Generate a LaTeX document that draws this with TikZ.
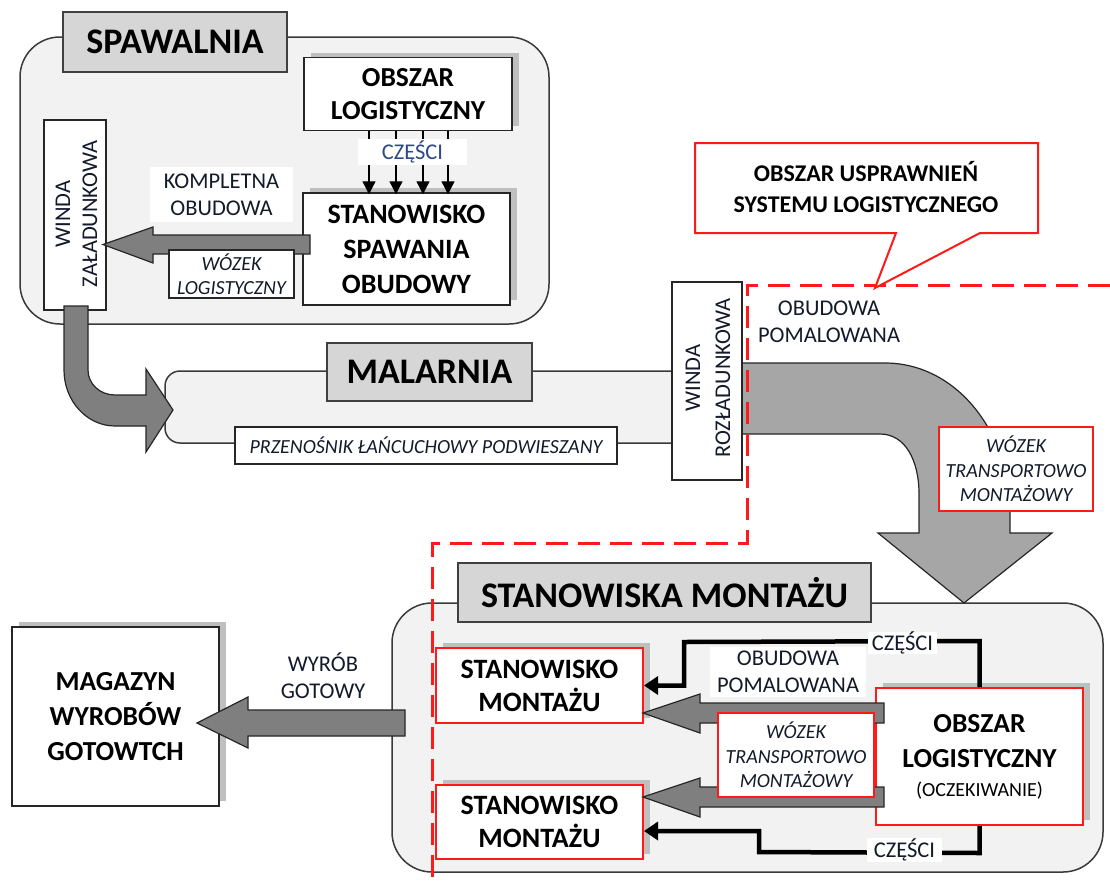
\documentclass[tikz,border=0pt]{standalone}
\usepackage{fontspec}
\setmainfont{Carlito}
\usetikzlibrary{arrows.meta,shadows}
\definecolor{areafill}{HTML}{F2F2F2}
\definecolor{areaborder}{HTML}{3A3A3A}
\definecolor{titlefill}{HTML}{D6D6D6}
\definecolor{titleborder}{HTML}{404040}
\definecolor{boxborder}{HTML}{262626}
\definecolor{shadowgray}{HTML}{BFBFBF}
\definecolor{darkarrow}{HTML}{7F7F7F}
\definecolor{lightarrow}{HTML}{A6A6A6}
\definecolor{arrowborder}{HTML}{262626}
\definecolor{myred}{HTML}{FF1A1A}
\definecolor{navy}{HTML}{141A2A}
\definecolor{bluetxt}{HTML}{2C4A85}
\tikzset{
  area/.style={draw=areaborder, line width=1.5pt, fill=areafill, rounded corners=40pt, inner sep=0pt},
  ttl/.style={draw=titleborder, line width=1.5pt, fill=titlefill, inner sep=0pt,
     font=\fontsize{36}{42}\selectfont\bfseries},
  pbox/.style={draw=boxborder, line width=1.5pt, fill=white, align=center, inner sep=0pt},
  sbox/.style={pbox, drop shadow={shadow xshift=7pt, shadow yshift=5pt, fill=shadowgray, opacity=1}},
  rbox/.style={sbox, draw=myred, line width=2pt},
  bigtxt/.style={font=\fontsize{27.5}{33}\selectfont\bfseries},
  lbl/.style={fill=white, align=center, inner sep=0pt, text=navy, font=\fontsize{22.5}{27}\selectfont},
  ntxt/.style={align=center, inner sep=0pt, text=navy, font=\fontsize{22.5}{27}\selectfont},
  itl/.style={draw=boxborder, line width=1.2pt, fill=white, align=center, inner sep=0pt, text=navy,
     font=\fontsize{20}{24.5}\selectfont\itshape},
  ritl/.style={itl, draw=myred, line width=2pt},
  fatarrow/.style={fill=darkarrow, draw=arrowborder, line width=1.2pt, line join=miter},
  thinarr/.style={line width=1.3pt, -{Triangle[length=13pt,width=13pt]}},
  conn/.style={line width=4.5pt, line join=miter, -{Triangle[length=14pt,width=18pt]}},
  reddash/.style={draw=myred, line width=3pt, dash pattern=on 22pt off 10pt},
}
\begin{document}
\begin{tikzpicture}[x=1pt,y=-1pt]
\fill[white] (0,0) rectangle (1110,881);
\useasboundingbox (0,0) rectangle (1110,881);

% ---------------- SPAWALNIA ----------------
\node[area, minimum width=529pt, minimum height=287pt] (spawalnia) at (284.5,180.5) {};
\node[ttl, minimum width=224pt, minimum height=60pt] (spawTitle) at (175,42) {SPAWALNIA};
\node[sbox, bigtxt, minimum width=208pt, minimum height=73pt] (obszar1) at (408,94) {OBSZAR\\LOGISTYCZNY};
\node[sbox, font=\fontsize{28}{35}\selectfont\bfseries, minimum width=207pt, minimum height=112pt] (stan) at (406.5,249) {STANOWISKO\\SPAWANIA\\OBUDOWY};
\foreach \dx in {-39,-12,15,40}
  \draw[thinarr] ([xshift=\dx pt]obszar1.south) -- ++(0,63);
\node[lbl, text=bluetxt, minimum width=109pt, minimum height=26pt] (czesci1) at (412.5,152) {CZĘŚCI};

\node[pbox, minimum width=62pt, minimum height=190pt] (windaZ) at (75,215) {};
\node[ntxt, rotate=90] (windaZtxt) at (76.5,214) {WINDA\\ZAŁADUNKOWA};
\node[lbl, minimum width=143pt, minimum height=55pt] (kompl) at (221.5,194.5) {KOMPLETNA\\OBUDOWA};
\draw[fatarrow] (310,235) -- (153,235) -- (153,227) -- (103,244.5) -- (153,263) -- (153,254) -- (310,254) -- cycle;
\node[itl, minimum width=125pt, minimum height=48pt] (wozekL) at (231.5,274) {WÓZEK\\LOGISTYCZNY};

% ---------------- MALARNIA ----------------
\node[area, rounded corners=15pt, minimum width=525pt, minimum height=72pt] (conveyor) at (427.5,407) {};
\node[ttl, minimum width=205pt, minimum height=58pt] (malTitle) at (429.5,372) {MALARNIA};
\node[itl, minimum width=382pt, minimum height=37pt] (przen) at (426,445.5) {PRZENOŚNIK ŁAŃCUCHOWY PODWIESZANY};
\draw[fatarrow] (64,306) -- (64,370) .. controls (64,401) and (87,426) .. (115,426)
  -- (146,426) -- (146,452) -- (173,410) -- (146,369) -- (146,395) -- (115,395)
  .. controls (100,395) and (88,384) .. (88,370) -- (88,306) -- cycle;

% ---------------- MONTAZ area ----------------
\node[area, minimum width=711pt, minimum height=269pt] (montaz) at (747.5,737.5) {};

% big light arrow
\draw[fatarrow, fill=lightarrow] (742,363) -- (885,363) .. controls (955,363) and (1010,430) .. (1010,513)
  -- (1010,533) -- (1052,533) -- (964,603) -- (878,533) -- (919,533) -- (919,494)
  .. controls (919,460) and (905,434) .. (880,434) -- (742,434) -- cycle;

\node[pbox, minimum width=70pt, minimum height=198pt] (windaR) at (707,381) {};
\node[ntxt, rotate=90, font=\fontsize{22.5}{30}\selectfont] (windaRtxt) at (708,378) {WINDA\\ROZŁADUNKOWA};
\node[ritl, minimum width=154pt, minimum height=84pt] (wozekT1) at (1016,469) {WÓZEK\\TRANSPORTOWO\\MONTAŻOWY};

% dashed improvement region
\draw[reddash] (1110,285) -- (747,285) -- (747,543) -- (432,543) -- (432,881);

% callout
\coordinate (calloutTip) at (875,288);
\draw[myred, line width=2pt, fill=white, line join=miter] (695,143) -- (1038,143) -- (1038,233) -- (980,233)
  -- (calloutTip) -- (896,233) -- (695,233) -- cycle;
\node[align=center, inner sep=0pt, font=\fontsize{24}{31}\selectfont\bfseries] (callout) at (866,187) {OBSZAR USPRAWNIEŃ\\SYSTEMU LOGISTYCZNEGO};

\node[ntxt] (obudowa1) at (829,322) {OBUDOWA\\POMALOWANA};

% ---------------- STANOWISKA MONTAZU ----------------
\node[ttl, minimum width=413pt, minimum height=59pt] (montTitle) at (664.5,592.5) {STANOWISKA MONTAŻU};
\node[rbox, font=\fontsize{28}{33}\selectfont\bfseries, minimum width=207pt, minimum height=75pt] (st1) at (539.5,685.5) {STANOWISKO\\MONTAŻU};
\node[rbox, font=\fontsize{28}{33}\selectfont\bfseries, minimum width=207pt, minimum height=74pt] (st2) at (539.5,822) {STANOWISKO\\MONTAŻU};
\node[rbox, font=\fontsize{27.5}{35}\selectfont\bfseries, minimum width=207pt, minimum height=137pt] (obszar2) at (979.5,756.5)
  {OBSZAR\\LOGISTYCZNY\\[-6pt]{\fontsize{20}{24}\selectfont\mdseries (OCZEKIWANIE)}};

\draw[conn] (obszar2.north) -- ++(0,-46) -- (684,642) -- (684,685.5) -- (st1.east);
\draw[conn] (obszar2.south) -- ++(0,27) -- (759,852) -- (759,831) -- ([yshift=-9pt]st2.east);

\draw[fatarrow] (884,703) -- (700,703) -- (700,694) -- (643,713) -- (700,733) -- (700,723) -- (884,723) -- cycle;
\draw[fatarrow] (884,787) -- (700,787) -- (700,778) -- (643,797) -- (700,817) -- (700,807) -- (884,807) -- cycle;

\node[lbl, minimum width=156pt, minimum height=50pt] (obudowa2) at (788,672) {OBUDOWA\\POMALOWANA};
\node[ritl, minimum width=156pt, minimum height=84pt] (wozekT2) at (796,755) {WÓZEK\\TRANSPORTOWO\\MONTAŻOWY};
\node[lbl, minimum width=69pt, minimum height=22pt] (czesci2) at (902.5,643) {CZĘŚCI};
\node[lbl, minimum width=75pt, minimum height=24pt] (czesci3) at (904.5,850) {CZĘŚCI};

% ---------------- MAGAZYN ----------------
\node[sbox, font=\fontsize{27.5}{35}\selectfont\bfseries, minimum width=207pt, minimum height=179pt] (magazyn) at (115.5,716.5) {MAGAZYN\\WYROBÓW\\GOTOWTCH};
\draw[fatarrow] (405,710) -- (248,710) -- (248,697) -- (197,723) -- (248,748) -- (248,736) -- (405,736) -- cycle;
\node[ntxt] (wyrob) at (323,675.5) {WYRÓB\\GOTOWY};
\end{tikzpicture}
\end{document}
